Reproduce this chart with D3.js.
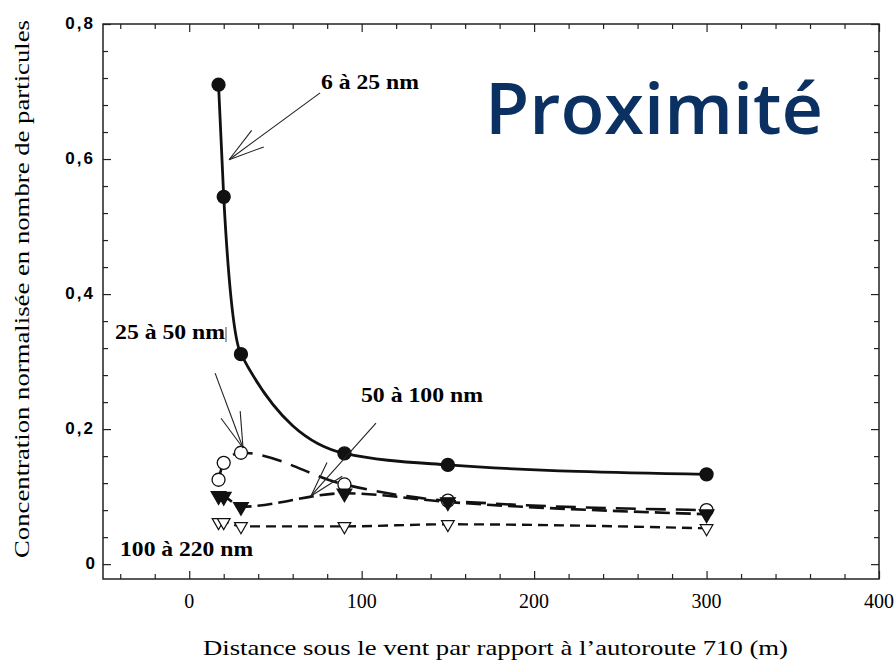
<!DOCTYPE html>
<html>
<head>
<meta charset="utf-8">
<script src="https://d3js.org/d3.v7.min.js"></script>
<style>
    body { margin:0; background:#fff; }
    .tick line { stroke:#222; stroke-width:1.2; }
</style>
</head>
<body>
<svg id="chart"></svg>
<script>
    // distances downwind (m) and normalised concentrations per size class
    var distances = [17, 20, 30, 90, 150, 300];
    var nm6to25 = [0.71, 0.544, 0.311, 0.164, 0.147, 0.133];
    var nm25to50 = [0.125, 0.150, 0.165, 0.118, 0.094, 0.080];
    var nm50to100 = [0.101, 0.100, 0.085, 0.105, 0.092, 0.074];
    var nm100to220 = [0.062, 0.062, 0.056, 0.056, 0.059, 0.053];

    var xTickValues = [0, 100, 200, 300, 400];
    var xTickLabels = ["0", "100", "200", "300", "400"];
    var yTickValues = [0, 0.2, 0.4, 0.6, 0.8];
    var yTickLabels = ["0", "0,2", "0,4", "0,6", "0,8"];

    var classLabels = ["6 à 25 nm", "25 à 50 nm", "50 à 100 nm", "100 à 220 nm"];
    // label anchors and arrows, in data units
    var labelX = [76.4, -43, 99.6, -40.1];
    var labelY = [0.704, 0.333, 0.240, 0.012];
    var arrowFrom = [[75.9, 0.698], [15.0, 0.283], [108.3, 0.209]];
    var arrowTo = [[23.1, 0.599], [31.2, 0.172], [70.6, 0.101]];

    var title = "Proximité";
    var xTitle = "Distance sous le vent par rapport à l\u2019autoroute 710 (m)";
    var yTitle = "Concentration normalisée en nombre de particules";

    var serif = "'Liberation Serif', 'Times New Roman', Times, serif";
    var sans = "'Liberation Sans', Arial, Helvetica, sans-serif";

    var width = 894, height = 664;
    var margin = {top:24, right:15, bottom:85, left:103};

    var svg = d3.select("#chart")
        .attr("width", width)
        .attr("height", height);

    var xScale = d3.scaleLinear()
        .domain([-50, 400])
        .range([margin.left, width - margin.right]);
    var yScale = d3.scaleLinear()
        .domain([-0.022, 0.8])
        .range([height - margin.bottom, margin.top]);

    var bottom = height - margin.bottom;
    var right = width - margin.right;

    // ticks on all four sides, pointing inwards
    var xMinor = d3.range(-40, 401, 20).filter(function(v){ return v % 100 != 0; });
    var yMinor = d3.range(0, 21).map(function(i){ return +(i * 0.04).toFixed(2); })
        .filter(function(v){ return yTickValues.indexOf(v) < 0; });

    var addTicks = function(axis, values, size, transform)
    {
        svg.append("g")
            .attr("transform", transform)
            .call(axis.tickValues(values).tickSize(-size).tickFormat(""))
            .call(function(g){ g.select(".domain").remove(); });
    }
    addTicks(d3.axisBottom(xScale), xMinor, 5, "translate(0," + bottom + ")");
    addTicks(d3.axisBottom(xScale), xTickValues, 8, "translate(0," + bottom + ")");
    addTicks(d3.axisTop(xScale), xMinor, 5, "translate(0," + margin.top + ")");
    addTicks(d3.axisTop(xScale), xTickValues, 8, "translate(0," + margin.top + ")");
    addTicks(d3.axisLeft(yScale), yMinor, 5, "translate(" + margin.left + ",0)");
    addTicks(d3.axisLeft(yScale), yTickValues, 8, "translate(" + margin.left + ",0)");
    addTicks(d3.axisRight(yScale), yMinor, 5, "translate(" + right + ",0)");
    addTicks(d3.axisRight(yScale), yTickValues, 8, "translate(" + right + ",0)");

    svg.append("rect")
        .attr("x", margin.left)
        .attr("y", margin.top)
        .attr("width", right - margin.left)
        .attr("height", bottom - margin.top)
        .attr("fill", "none")
        .attr("stroke", "#222")
        .attr("stroke-width", 1.5);

    // tick labels
    svg.selectAll(".xlabel")
        .data(xTickValues)
        .enter()
        .append("text")
        .attr("class", "xlabel")
        .attr("x", function(d){ return xScale(d); })
        .attr("y", bottom + 29)
        .attr("text-anchor", "middle")
        .style("font-family", serif)
        .style("font-size", "20px")
        .text(function(d, i){ return xTickLabels[i]; });

    svg.selectAll(".ylabel")
        .data(yTickValues)
        .enter()
        .append("text")
        .attr("class", "ylabel")
        .attr("x", 95)
        .attr("y", function(d){ return yScale(d) + 5; })
        .attr("text-anchor", "end")
        .style("font-family", sans)
        .style("font-weight", "bold")
        .style("font-size", "17px")
        .attr("letter-spacing", function(d, i){ return yTickLabels[i].length > 1 ? 2 : 0; })
        .text(function(d, i){ return yTickLabels[i]; });

    // curves
    var series = [
        {values:nm6to25, dash:null, width:2.8},
        {values:nm25to50, dash:"20,10", width:2.6},
        {values:nm50to100, dash:"15,6", width:2.6},
        {values:nm100to220, dash:"10,6", width:2.4}
    ];

    var line = d3.line()
        .x(function(d, i){ return xScale(distances[i]); })
        .y(function(d){ return yScale(d); })
        .curve(d3.curveMonotoneX);

    svg.selectAll(".curve")
        .data(series)
        .enter()
        .append("path")
        .attr("class", "curve")
        .attr("d", function(s){ return line(s.values); })
        .attr("fill", "none")
        .attr("stroke", "#111")
        .attr("stroke-width", function(s){ return s.width; })
        .attr("stroke-dasharray", function(s){ return s.dash; });

    // markers
    var drawCircles = function(values, filled)
    {
        svg.append("g")
            .selectAll("circle")
            .data(values)
            .enter()
            .append("circle")
            .attr("cx", function(d, i){ return xScale(distances[i]); })
            .attr("cy", function(d){ return yScale(d); })
            .attr("r", 6.5)
            .attr("fill", filled ? "#111" : "#fff")
            .attr("stroke", "#111")
            .attr("stroke-width", 1.3);
    }
    var drawTriangles = function(values, filled, size)
    {
        svg.append("g")
            .selectAll("path")
            .data(values)
            .enter()
            .append("path")
            .attr("d", d3.symbol().type(d3.symbolTriangle).size(size))
            .attr("transform", function(d, i){
                return "translate(" + xScale(distances[i]) + "," + yScale(d) + ") rotate(180)";
            })
            .attr("fill", filled ? "#111" : "#fff")
            .attr("stroke", "#111")
            .attr("stroke-width", 1.2);
    }
    drawTriangles(nm100to220, false, 70);
    drawCircles(nm25to50, false);
    drawTriangles(nm50to100, true, 95);
    drawCircles(nm6to25, true);

    // annotation arrows with open heads
    arrowFrom.forEach(function(from, i)
    {
        var x0 = xScale(from[0]), y0 = yScale(from[1]);
        var x1 = xScale(arrowTo[i][0]), y1 = yScale(arrowTo[i][1]);
        var a = Math.atan2(y0 - y1, x0 - x1);
        var g = svg.append("g")
            .attr("stroke", "#222")
            .attr("stroke-width", 1.1);
        g.append("line").attr("x1", x0).attr("y1", y0).attr("x2", x1).attr("y2", y1);
        [-0.28, 0.28].forEach(function(da)
        {
            g.append("line")
                .attr("x1", x1).attr("y1", y1)
                .attr("x2", x1 + 37 * Math.cos(a + da))
                .attr("y2", y1 + 37 * Math.sin(a + da));
        });
    });

    var labelWidths = [98, 110, 122, 133];
    svg.selectAll(".classlabel")
        .data(classLabels)
        .enter()
        .append("text")
        .attr("class", "classlabel")
        .attr("x", function(d, i){ return xScale(labelX[i]); })
        .attr("y", function(d, i){ return yScale(labelY[i]); })
        .style("font-family", serif)
        .style("font-weight", "bold")
        .style("font-size", "21px")
        .attr("textLength", function(d, i){ return labelWidths[i]; })
        .attr("lengthAdjust", "spacingAndGlyphs")
        .text(function(d){ return d; });

    // stray mark next to the 25-50 nm label
    svg.append("line")
        .attr("x1", 226).attr("y1", 327)
        .attr("x2", 226).attr("y2", 342)
        .attr("stroke", "#444")
        .attr("stroke-width", 1);

    svg.append("text")
        .attr("x", 485)
        .attr("y", 134)
        .style("font-family", "'Open Sans', 'Noto Sans', sans-serif")
        .style("font-weight", 600)
        .style("font-size", "71px")
        .attr("fill", "#0b3163")
        .attr("textLength", 338)
        .attr("lengthAdjust", "spacingAndGlyphs")
        .text(title);

    svg.append("text")
        .attr("x", 203)
        .attr("y", 655)
        .style("font-family", serif)
        .style("font-size", "22px")
        .attr("textLength", 585)
        .attr("lengthAdjust", "spacingAndGlyphs")
        .text(xTitle);

    svg.append("text")
        .attr("transform", "translate(29,558) rotate(-90)")
        .style("font-family", serif)
        .style("font-size", "21px")
        .attr("textLength", 538)
        .attr("lengthAdjust", "spacingAndGlyphs")
        .text(yTitle);
</script>
</body>
</html>
